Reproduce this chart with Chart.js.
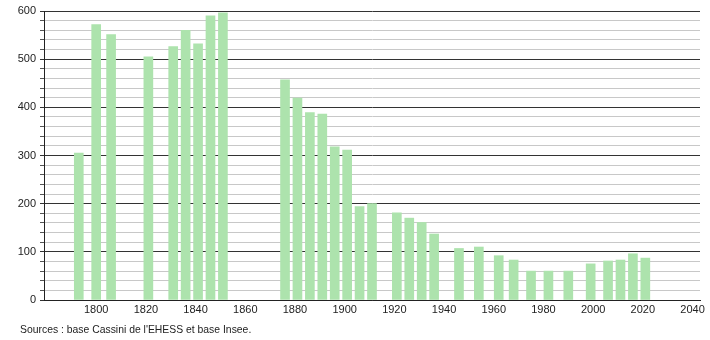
<!DOCTYPE html>
<html lang="fr">
<head>
    <meta charset="UTF-8">
    <title>Évolution démographique</title>
    <script src="https://cdn.jsdelivr.net/npm/chart.js"></script>
    <style>
        html, body {
            margin: 0;
            padding: 0;
            background: #fff;
        }
        #wrap {
            width: 710px;
            height: 340px;
            position: relative;
        }
    </style>
</head>
<body>
<div id="wrap"><canvas id="popChart"></canvas></div>

<script>
  // recensements
  const years = [1793, 1800, 1806, 1821, 1831, 1836, 1841, 1846, 1851,
    1876, 1881, 1886, 1891, 1896, 1901, 1906, 1911, 1921, 1926, 1931, 1936,
    1946, 1954, 1962, 1968, 1975, 1982, 1990, 1999, 2006, 2011, 2016, 2021];
  const population = [305, 572, 551, 505, 526, 560, 532, 590, 596,
    457, 419, 389, 386, 318, 311, 194, 200, 181, 170, 161, 137,
    107, 110, 92, 83, 60, 60, 60, 75, 81, 83, 96, 87];
  const yTicks = [0, 100, 200, 300, 400, 500, 600];
  const xTicks = [1800, 1820, 1840, 1860, 1880, 1900, 1920, 1940, 1960, 1980, 2000, 2020, 2040];
  const sourceText = "Sources : base Cassini de l'EHESS et base Insee.";

  const font = { family: 'Liberation Sans, Arial, sans-serif', size: 11 };

  const sourcePlugin = {
    id: 'source',
    afterDraw(chart) {
      const ctx = chart.ctx;
      ctx.save();
      ctx.font = '10.4px Liberation Sans, Arial, sans-serif';
      ctx.fillStyle = '#222';
      ctx.textBaseline = 'middle';
      ctx.fillText(sourceText, 20, 330);
      ctx.restore();
    }
  };

  const ctx = document.getElementById('popChart').getContext('2d');
  new Chart(ctx, {
    type: 'bar',
    data: {
      datasets: [{
        data: years.map((y, i) => ({ x: y, y: population[i] })),
        backgroundColor: '#ade3ad',
        borderWidth: 0,
        barThickness: 9
      }]
    },
    options: {
      responsive: true,
      maintainAspectRatio: false,
      animation: false,
      layout: { padding: { top: 11, right: 10, left: 0, bottom: 0 } },
      plugins: {
        legend: { display: false },
        tooltip: { enabled: false }
      },
      scales: {
        x: {
          type: 'linear',
          offset: false,
          min: 1779,
          max: 2043,
          afterFit: s => { s.height = 40; },
          afterBuildTicks: s => {
            s.ticks = xTicks.map(v => ({ value: v }));
          },
          grid: { display: false, drawTicks: false, offset: false },
          border: { color: '#222', width: 1 },
          ticks: {
            color: '#222',
            font: font,
            padding: 3,
            maxRotation: 0,
            autoSkip: false,
            callback: v => String(v)
          }
        },
        y: {
          min: 0,
          max: 600,
          afterFit: s => { s.width = 44; },
          afterBuildTicks: s => {
            const t = [];
            for (let v = 0; v <= 600; v += 20) t.push({ value: v });
            s.ticks = t;
          },
          border: { color: '#222', width: 1 },
          grid: {
            color: c => (c.tick.value % 100 === 0 ? '#333' : '#c8c8c8'),
            tickColor: c => (c.tick.value % 100 === 0 ? '#333' : '#555'),
            tickLength: 4,
            lineWidth: 1
          },
          ticks: {
            color: '#222',
            font: font,
            padding: 4,
            autoSkip: false,
            callback: v => (yTicks.includes(v) ? String(v) : '')
          }
        }
      }
    },
    plugins: [sourcePlugin]
  });
</script>
</body>
</html>
